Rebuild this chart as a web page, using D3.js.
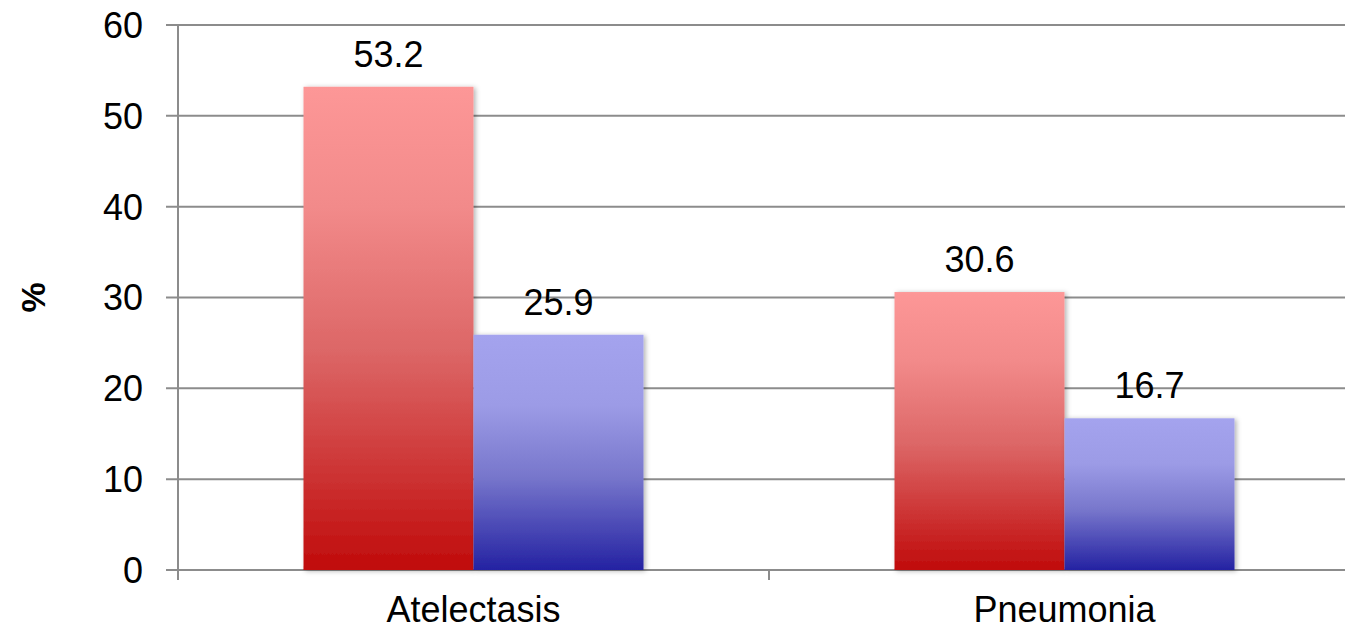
<!DOCTYPE html>
<html>
<head>
<meta charset="utf-8">
<script src="https://cdn.jsdelivr.net/npm/d3@7"></script>
<style>
  html, body { margin: 0; padding: 0; background: #fff; }
  svg { display: block; }
  text { font-family: "Liberation Sans", Arial, sans-serif; fill: #000; }
</style>
</head>
<body>
<svg id="chart" width="1345" height="631"></svg>
<script>
// Categories and series
const categories = ["Atelectasis", "Pneumonia"];
const seriesNames = ["s1", "s2"];
const seriesA = [53.2, 30.6];   // red series
const seriesB = [25.9, 16.7];   // blue series
const yTicks = [0, 10, 20, 30, 40, 50, 60];
const yLabel = "%";

const width = 1345, height = 631;
const margin = { left: 178, right: -15, top: 25, bottom: 61 };
const fontSize = 36;

const svg = d3.select("#chart");

// Vertical gradient fills for each series
const defs = svg.append("defs");
const gradDefs = [
  { id: "gradRed", stops: [[0, "#fd9797"], [0.25, "#f28a8a"], [0.55, "#dc6666"], [1, "#c00b0b"]] },
  { id: "gradBlue", stops: [[0, "#a4a3ee"], [0.3, "#9c9be6"], [0.6, "#7877cc"], [1, "#2422a2"]] }
];
gradDefs.forEach(g => {
  const lg = defs.append("linearGradient")
    .attr("id", g.id).attr("x1", 0).attr("y1", 0).attr("x2", 0).attr("y2", 1);
  lg.selectAll("stop").data(g.stops).join("stop")
    .attr("offset", d => d[0]).attr("stop-color", d => d[1]);
});
const shadow = defs.append("filter").attr("id", "barShadow")
  .attr("x", "-10%").attr("y", "-10%").attr("width", "130%").attr("height", "130%");
shadow.append("feDropShadow")
  .attr("dx", 2).attr("dy", 1).attr("stdDeviation", 2.5)
  .attr("flood-color", "#000").attr("flood-opacity", 0.3);

const x0 = d3.scaleBand()
  .domain(categories)
  .range([margin.left, width - margin.right])
  .paddingInner(0)
  .paddingOuter(0);

const groupWidth = 340;
const x1 = d3.scaleBand()
  .domain(seriesNames)
  .range([0, groupWidth]);

const y = d3.scaleLinear()
  .domain([0, 60])
  .range([height - margin.bottom, margin.top]);

// Horizontal gridlines (with left tick stubs)
svg.append("g")
  .selectAll("line")
  .data(yTicks)
  .join("line")
  .attr("x1", margin.left - 12)
  .attr("x2", width - margin.right)
  .attr("y1", d => y(d))
  .attr("y2", d => y(d))
  .attr("stroke", "#8c8c8c")
  .attr("stroke-width", 2);

// Y tick labels
svg.append("g")
  .selectAll("text")
  .data(yTicks)
  .join("text")
  .attr("x", margin.left - 35)
  .attr("y", d => y(d))
  .attr("dy", "0.36em")
  .attr("text-anchor", "end")
  .attr("font-size", fontSize)
  .text(d => d);

// Y axis line
svg.append("line")
  .attr("x1", margin.left).attr("x2", margin.left)
  .attr("y1", y(60)).attr("y2", y(0) + 10)
  .attr("stroke", "#8c8c8c").attr("stroke-width", 2);

// X axis category boundary ticks
const boundaries = categories.map(c => x0(c)).concat([x0(categories[categories.length - 1]) + x0.bandwidth()]);
svg.append("g")
  .selectAll("line")
  .data(boundaries)
  .join("line")
  .attr("x1", d => d).attr("x2", d => d)
  .attr("y1", y(0)).attr("y2", y(0) + 10)
  .attr("stroke", "#8c8c8c").attr("stroke-width", 2);

// Bars
const rows = categories.map((c, i) => ({
  category: c,
  values: [
    { key: "s1", value: seriesA[i], fill: "url(#gradRed)" },
    { key: "s2", value: seriesB[i], fill: "url(#gradBlue)" }
  ]
}));

const groups = svg.append("g")
  .selectAll("g")
  .data(rows)
  .join("g")
  .attr("transform", d => `translate(${x0(d.category) + (x0.bandwidth() - groupWidth) / 2},0)`);

groups.selectAll("rect")
  .data(d => d.values)
  .join("rect")
  .attr("x", d => x1(d.key))
  .attr("width", x1.bandwidth())
  .attr("y", d => y(d.value))
  .attr("height", d => y(0) - y(d.value))
  .attr("fill", d => d.fill)
  .attr("filter", "url(#barShadow)");

// Value labels
groups.selectAll("text.value")
  .data(d => d.values)
  .join("text")
  .attr("class", "value")
  .attr("x", d => x1(d.key) + x1.bandwidth() / 2)
  .attr("y", d => y(d.value) - 20)
  .attr("text-anchor", "middle")
  .attr("font-size", fontSize)
  .text(d => d.value.toFixed(1));

// Category labels
svg.append("g")
  .selectAll("text")
  .data(categories)
  .join("text")
  .attr("x", d => x0(d) + x0.bandwidth() / 2)
  .attr("y", y(0) + 52)
  .attr("text-anchor", "middle")
  .attr("font-size", fontSize)
  .text(d => d);

// Y axis title
svg.append("text")
  .attr("transform", `translate(45, ${(y(0) + y(60)) / 2}) rotate(-90)`)
  .attr("text-anchor", "middle")
  .attr("font-size", 34)
  .attr("font-weight", "bold")
  .text(yLabel);
</script>
</body>
</html>
